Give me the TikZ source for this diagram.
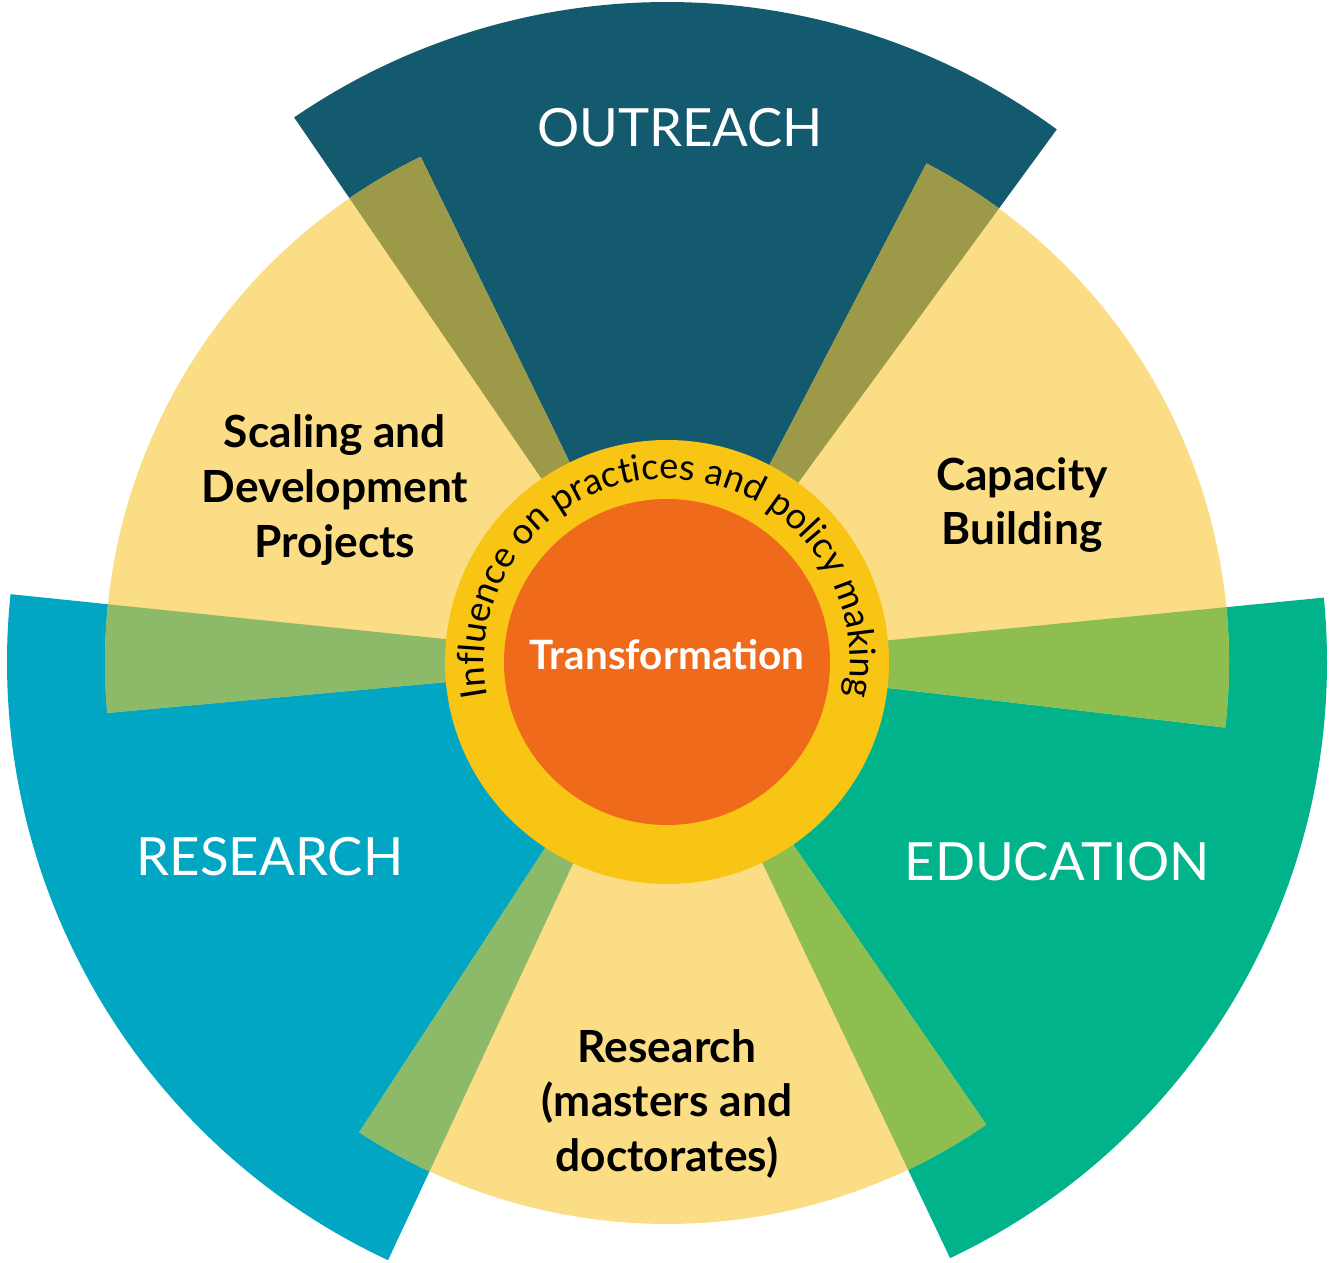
\documentclass[tikz,border=0pt]{standalone}
\usepackage{fontspec}
\setmainfont{Lato}
\usetikzlibrary{decorations.text}

\definecolor{outreachblue}{HTML}{135A6E}
\definecolor{researchblue}{HTML}{00A6C2}
\definecolor{educationgreen}{HTML}{00B38A}
\definecolor{paleyellow}{HTML}{FBDD85}
\definecolor{olivemix}{HTML}{9C9A48}
\definecolor{bluemix}{HTML}{8CBA68}
\definecolor{greenmix}{HTML}{8EBE50}
\definecolor{ringyellow}{HTML}{F9C515}
\definecolor{coreorange}{HTML}{EF6A1B}

\newcommand{\arcfont}{\fontsize{10.3}{12}\selectfont}

\tikzset{
    pillar/.style = {
        text=white,
        font=\fontsize{15}{18}\selectfont
    },
    activity/.style = {
        text=black,
        align=center,
        font=\bfseries\fontsize{12.6}{15.6}\selectfont
    },
    core/.style = {
        text=white,
        font=\bfseries\fontsize{11.5}{14}\selectfont
    },
}

\begin{document}
\begin{tikzpicture}
            \useasboundingbox (-6.67,-6.00) rectangle (6.62,6.62);

            % the three pillars
            \fill[outreachblue] (0,0) -- (53.8:6.6) arc[start angle=53.8, end angle=124.4, radius=6.6] -- cycle;
            \fill[researchblue] (0,0) -- (174.1:6.6) arc[start angle=174.1, end angle=245, radius=6.6] -- cycle;
            \fill[educationgreen] (0,0) -- (295.4:6.6) arc[start angle=295.4, end angle=365.6, radius=6.6] -- cycle;

            % activities in between
            \fill[paleyellow] (0,0) -- (116:5.62) arc[start angle=116, end angle=185.2, radius=5.62] -- cycle;
            \fill[paleyellow] (0,0) -- (-6.7:5.62) arc[start angle=-6.7, end angle=62.5, radius=5.62] -- cycle;
            \fill[paleyellow] (0,0) -- (236.8:5.62) arc[start angle=236.8, end angle=304.6, radius=5.62] -- cycle;

            % overlaps
            \fill[olivemix] (0,0) -- (116:5.62) arc[start angle=116, end angle=124.4, radius=5.62] -- cycle;
            \fill[olivemix] (0,0) -- (53.8:5.62) arc[start angle=53.8, end angle=62.5, radius=5.62] -- cycle;
            \fill[bluemix] (0,0) -- (174.1:5.62) arc[start angle=174.1, end angle=185.2, radius=5.62] -- cycle;
            \fill[bluemix] (0,0) -- (236.8:5.62) arc[start angle=236.8, end angle=245, radius=5.62] -- cycle;
            \fill[greenmix] (0,0) -- (295.4:5.62) arc[start angle=295.4, end angle=304.6, radius=5.62] -- cycle;
            \fill[greenmix] (0,0) -- (-6.7:5.62) arc[start angle=-6.7, end angle=5.6, radius=5.62] -- cycle;

            \fill[ringyellow] (0,0) circle[radius=2.22];
            \fill[coreorange] (0,0) circle[radius=1.63];

            \path[decorate, decoration={text along path, text align=center,
                text={|\arcfont|Influence on practices and policy making}}]
                (192:1.83) arc[start angle=192, end angle=-12, radius=1.83];

            \node[core] (transformation) at (0,0.07) {Transformation};

            \node[pillar] (outreach) at (0.13,5.34) {OUTREACH};
            \node[pillar] (research) at (-3.97,-1.95) {RESEARCH};
            \node[pillar] (education) at (3.90,-2.00) {EDUCATION};

            \node[activity] (scaling) at (-3.32,1.72) {Scaling and\\Development\\Projects};
            \node[activity] (capacity) at (3.55,1.57) {Capacity\\Building};
            \node[activity] (degrees) at (0,-4.42) {Research\\(masters and\\doctorates)};

        \end{tikzpicture}
\end{document}
